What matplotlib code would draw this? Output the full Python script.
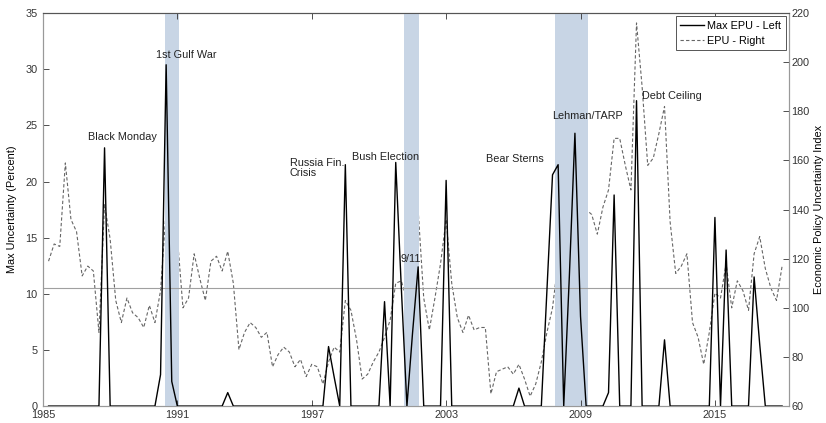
import matplotlib
matplotlib.use('Agg')
import matplotlib.pyplot as plt
import numpy as np

# quarterly, 1985Q2 .. 2018Q1
t = 1985 + 0.25 * np.arange(1, 133)

epu = [119, 126, 125, 159, 136, 131, 113, 117, 115, 90,
       142, 128, 103, 94, 104, 98, 96, 92, 101, 94,
       107, 140, 139, 129, 100, 104, 122, 112, 103, 119,
       121, 115, 123, 110, 83, 90, 94, 92, 88, 90,
       76, 81, 84, 82, 76, 79, 72, 77, 76, 69,
       78, 84, 82, 103, 99, 87, 71, 73, 78, 82,
       88, 95, 110, 111, 103, 115, 140, 104, 91, 104,
       118, 136, 110, 96, 90, 97, 91, 92, 92, 65,
       74, 75, 76, 73, 77, 71, 64, 69, 78, 90,
       100, 119, 102, 115, 139, 175, 140, 138, 130, 141,
       148, 169, 169, 158, 148, 216, 190, 158, 161, 171,
       182, 135, 114, 117, 122, 94, 88, 77, 90, 106,
       104, 118, 100, 111, 107, 99, 122, 129, 116, 108,
       103, 117]

max_epu = np.zeros(132)
spikes = {11: 23.0, 21: 2.8, 22: 30.4, 23: 2.2, 33: 1.2,
          51: 5.3, 52: 2.6, 54: 21.5, 61: 9.3, 63: 21.7, 64: 10.5,
          66: 6.5, 67: 12.4, 72: 20.1, 85: 1.6, 90: 10.3, 91: 20.6,
          92: 21.5, 94: 11.5, 95: 24.3, 96: 8.0, 101: 1.2, 102: 18.8,
          106: 27.2, 111: 5.9, 120: 16.8, 122: 13.9, 127: 11.5, 128: 5.5}
for k, v in spikes.items():
    max_epu[k - 1] = v

recessions = [(1990.45, 1991.08), (2001.1, 2001.78), (2007.85, 2009.33)]

events = [('Black Monday', 1987.0, 24.0),
          ('1st Gulf War', 1990.05, 31.3),
          ('Russia Fin.\nCrisis', 1996.02, 21.2),
          ('Bush Election', 1998.78, 22.2),
          ('9/11', 2000.98, 13.1),
          ('Bear Sterns', 2004.76, 22.0),
          ('Lehman/TARP', 2007.75, 25.8),
          ('Debt Ceiling', 2011.76, 27.6)]

plt.rcParams['font.family'] = ['Liberation Sans', 'DejaVu Sans']
plt.rcParams['font.size'] = 7.8

fig = plt.figure(figsize=(8.26, 4.23), dpi=100)
ax1 = fig.add_axes([0.052, 0.04, 0.903, 0.929])
ax2 = ax1.twinx()

for a, b in recessions:
    ax1.axvspan(a, b, color='#c8d5e5', lw=0, zorder=0)
ax1.axhline(10.5, color='#a0a0a0', lw=0.8, zorder=1)

l1, = ax1.plot(t, max_epu, color='black', lw=1.0, label='Max EPU - Left', zorder=3)
l2, = ax2.plot(t, epu, color='#666666', lw=0.8, ls=(0, (3, 2)), label='EPU - Right')

for txt, x, y in events:
    ax1.text(x, y, txt, fontsize=7.8, ha='left', va='center', color='#222222',
             linespacing=1.1)

ax1.set_xlim(1985, 2018.3)
ax1.set_ylim(0, 35)
ax2.set_ylim(60, 220)
ax1.set_xticks(range(1985, 2016, 6))
ax1.set_yticks(range(0, 36, 5))
ax2.set_yticks(range(60, 221, 20))
ax1.set_ylabel('Max Uncertainty (Percent)', fontsize=7.8, labelpad=6)
ax2.set_ylabel('Economic Policy Uncertainty Index', fontsize=7.8, labelpad=3)

for a in (ax1, ax2):
    a.tick_params(direction='in', length=4, width=0.6, colors='#333333', labelsize=7.8)
    for s in a.spines.values():
        s.set_color('#999999')
        s.set_linewidth(0.8)
    a.spines['top'].set_color('#555555')
ax1.tick_params(axis='x', top=True, pad=3)
ax1.tick_params(axis='y', pad=4)
ax2.tick_params(axis='y', pad=2)

leg = ax1.legend([l1, l2], ['Max EPU - Left', 'EPU - Right'], loc='upper right',
                 fontsize=7.8, handlelength=2.2, handletextpad=0.3,
                 borderaxespad=0.3, fancybox=False, framealpha=1,
                 edgecolor='#555555')
leg.get_frame().set_linewidth(0.7)
ax1.set_zorder(ax2.get_zorder() + 1)
ax1.patch.set_visible(False)

fig.savefig('out.png', dpi=100)
